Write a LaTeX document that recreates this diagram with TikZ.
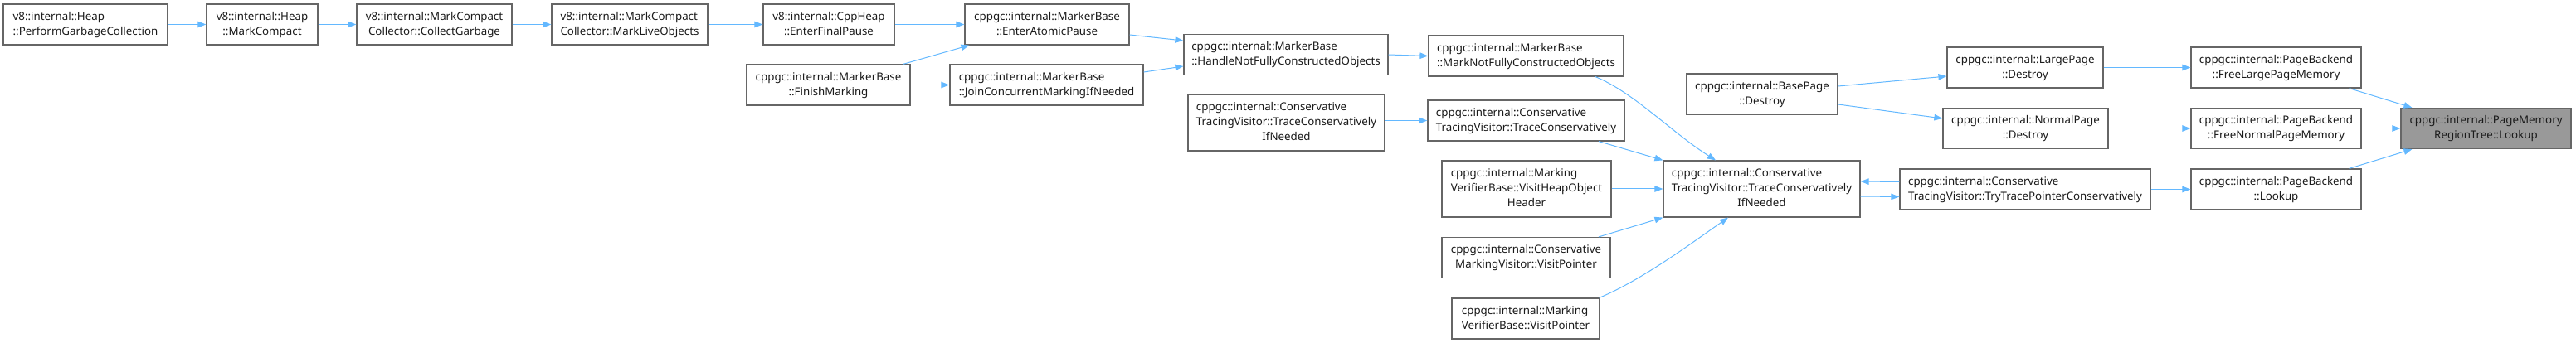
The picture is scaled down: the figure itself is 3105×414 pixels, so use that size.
\documentclass[tikz,border=0pt]{standalone}
\usepackage{fontspec}
\setmainfont{Noto Sans}
\usetikzlibrary{arrows.meta}
\definecolor{edgeblue}{HTML}{63B8FF}
\definecolor{boxborder}{HTML}{666666}
\definecolor{hlfill}{HTML}{999999}
\definecolor{txt}{HTML}{1A1A1A}
\newcommand{\twol}[2]{\begin{tabular}{@{}l@{}}#1\\\multicolumn{1}{@{}c@{}}{#2}\end{tabular}}
\newcommand{\threel}[3]{\begin{tabular}{@{}l@{}}#1\\#2\\\multicolumn{1}{@{}c@{}}{#3}\end{tabular}}
\tikzset{
  fnbox/.style={draw=boxborder, line width=1.2pt, fill=white, inner sep=0pt, rectangle,
    text=txt, font=\fontsize{13.33}{18}\selectfont, minimum height=49pt},
  tall/.style={minimum height=68pt},
  hl/.style={fill=hlfill},
  call/.style={draw=edgeblue, line width=1pt, -{Triangle[length=10pt,width=7.5pt]}},
}
\begin{document}
\begin{tikzpicture}[x=1pt,y=-1pt]
\useasboundingbox (0,0) rectangle (3105,414);
% nodes
\node[fnbox, minimum width=198pt] (pgc) at (103,29.5) {\twol{v8::internal::Heap}{::PerformGarbageCollection}};
\node[fnbox, minimum width=134pt] (mc) at (316,29.5) {\twol{v8::internal::Heap}{::MarkCompact}};
\node[fnbox, minimum width=187pt] (cg) at (523.5,29.5) {\twol{v8::internal::MarkCompact}{Collector::CollectGarbage}};
\node[fnbox, minimum width=188pt] (mlo) at (759,29.5) {\twol{v8::internal::MarkCompact}{Collector::MarkLiveObjects}};
\node[fnbox, minimum width=158pt] (efp) at (999,29.5) {\twol{v8::internal::CppHeap}{::EnterFinalPause}};
\node[fnbox, minimum width=198pt] (eap) at (1262,29.5) {\twol{cppgc::internal::MarkerBase}{::EnterAtomicPause}};
\node[fnbox, minimum width=197pt] (fm) at (998.5,102.5) {\twol{cppgc::internal::MarkerBase}{::FinishMarking}};
\node[fnbox, minimum width=233pt] (jcm) at (1261.5,102.5) {\twol{cppgc::internal::MarkerBase}{::JoinConcurrentMarkingIfNeeded}};
\node[fnbox, minimum width=246pt] (hnf) at (1550,66) {\twol{cppgc::internal::MarkerBase}{::HandleNotFullyConstructedObjects}};
\node[fnbox, minimum width=235pt] (mnf) at (1839.5,67.5) {\twol{cppgc::internal::MarkerBase}{::MarkNotFullyConstructedObjects}};
\node[fnbox, tall, minimum width=237pt] (tcinb) at (1550.5,148) {\threel{cppgc::internal::Conservative}{TracingVisitor::TraceConservatively}{IfNeeded}};
\node[fnbox, minimum width=237pt] (tc) at (1839.5,145.5) {\twol{cppgc::internal::Conservative}{TracingVisitor::TraceConservatively}};
\node[fnbox, tall, minimum width=204pt] (vhoh) at (1840,228) {\threel{cppgc::internal::Marking}{VerifierBase::VisitHeapObject}{Header}};
\node[fnbox, minimum width=203pt] (cmvvp) at (1839.5,311) {\twol{cppgc::internal::Conservative}{MarkingVisitor::VisitPointer}};
\node[fnbox, minimum width=178pt] (mvvp) at (1839,384.5) {\twol{cppgc::internal::Marking}{VerifierBase::VisitPointer}};
\node[fnbox, tall, minimum width=237pt] (tcin) at (2123.5,228) {\threel{cppgc::internal::Conservative}{TracingVisitor::TraceConservatively}{IfNeeded}};
\node[fnbox, minimum width=182pt] (bpd) at (2124,113.5) {\twol{cppgc::internal::BasePage}{::Destroy}};
\node[fnbox, minimum width=188pt] (lpd) at (2441,81.5) {\twol{cppgc::internal::LargePage}{::Destroy}};
\node[fnbox, minimum width=199pt] (npd) at (2441.5,155) {\twol{cppgc::internal::NormalPage}{::Destroy}};
\node[fnbox, minimum width=302pt] (ttpc) at (2441,228.5) {\twol{cppgc::internal::Conservative}{TracingVisitor::TryTracePointerConservatively}};
\node[fnbox, minimum width=205pt] (flpm) at (2743.5,81.5) {\twol{cppgc::internal::PageBackend}{::FreeLargePageMemory}};
\node[fnbox, minimum width=205pt] (fnpm) at (2743.5,155) {\twol{cppgc::internal::PageBackend}{::FreeNormalPageMemory}};
\node[fnbox, minimum width=205pt] (pbl) at (2743.5,228.5) {\twol{cppgc::internal::PageBackend}{::Lookup}};
\node[fnbox, hl, minimum width=205pt] (pmrt) at (2996.5,155) {\twol{cppgc::internal::PageMemory}{RegionTree::Lookup}};
% edges
\draw[call] (pgc.east) -- (mc.west);
\draw[call] (mc.east) -- (cg.west);
\draw[call] (cg.east) -- (mlo.west);
\draw[call] (mlo.east) -- (efp.west);
\draw[call] (efp.east) -- (eap.west);
\draw[call] ([xshift=-9pt]fm.north east) -- ([xshift=6pt]eap.south west);
\draw[call] (fm.east) -- (jcm.west);
\draw[call] ([yshift=-12.5pt]eap.east) -- ([yshift=17pt]hnf.west);
\draw[call] ([yshift=15.5pt]jcm.east) -- ([yshift=-14pt]hnf.west);
\draw[call] (hnf.east) -- (mnf.west);
\draw[call] ([xshift=83.5pt]mnf.south) .. controls (1970,112) and (2015,160) .. ([xshift=-55.5pt]tcin.north);
\draw[call] (tc.west -| tcinb.east) -- (tc.west);
\draw[call] ([xshift=87.5pt]tc.south) -- (tcin.north west);
\draw[call] (vhoh.east) -- (tcin.west);
\draw[call] ([xshift=87.5pt]cmvvp.north) -- (tcin.south west);
\draw[call] ([xshift=-1pt]mvvp.north east) .. controls (1979,338) and (2038,294) .. ([xshift=-40.5pt]tcin.south);
\draw[call] ([yshift=9pt]ttpc.west) -- ([yshift=9pt]tcin.east);
\draw[call] ([yshift=-9pt]tcin.east) -- ([yshift=-9pt]ttpc.west);
\draw[call] ([yshift=9.5pt]bpd.east) -- ([yshift=-10.5pt]lpd.west);
\draw[call] ([yshift=-12.5pt]bpd.east) -- ([yshift=12pt]npd.west);
\draw[call] (lpd.east) -- (flpm.west);
\draw[call] (npd.east) -- (fnpm.west);
\draw[call] (ttpc.east) -- (pbl.west);
\draw[call] ([xshift=-15pt]flpm.south east) -- ([xshift=14pt]pmrt.north west);
\draw[call] (fnpm.east) -- (pmrt.west);
\draw[call] ([xshift=-15pt]pbl.north east) -- ([xshift=14pt]pmrt.south west);
\end{tikzpicture}
\end{document}
